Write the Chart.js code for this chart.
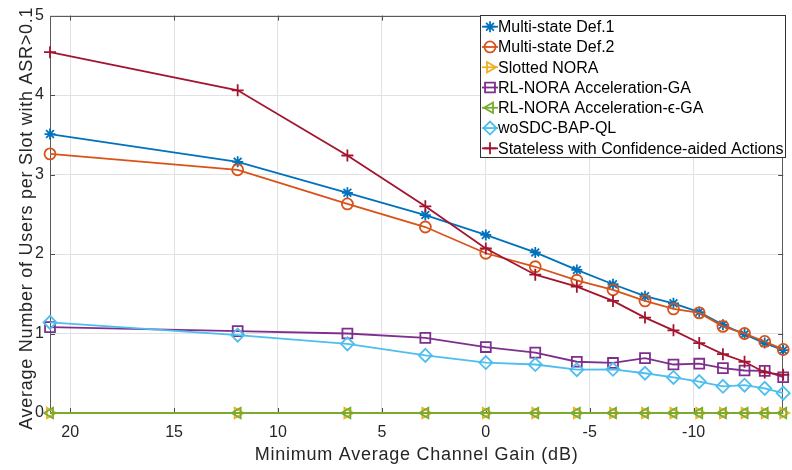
<!DOCTYPE html>
<html>
<head>
<meta charset="utf-8">
<script src="https://cdn.jsdelivr.net/npm/chart.js@4/dist/chart.umd.min.js"></script>
<style>
  html, body { margin: 0; padding: 0; background: #fff; }
  #wrap { width: 792px; height: 470px; }
</style>
</head>
<body>
<div id="wrap"><canvas id="c" width="792" height="470"></canvas></div>
<script>
// Minimum average channel gain (dB) of each simulated point
const gainDb = [20.97, 11.94, 6.66, 2.91, 0, -2.38, -4.38, -6.12, -7.66, -9.03, -10.27, -11.41, -12.45, -13.42, -14.31];
const xTickValues = [20, 15, 10, 5, 0, -5, -10];
const yTickValues = [0, 1, 2, 3, 4, 5];

// Average number of users per slot with ASR > 0.1
const multiStateDef1 = [3.51, 3.16, 2.77, 2.49, 2.24, 2.02, 1.80, 1.62, 1.47, 1.38, 1.27, 1.11, 0.99, 0.88, 0.79];
const multiStateDef2 = [3.26, 3.06, 2.63, 2.34, 2.01, 1.84, 1.67, 1.55, 1.41, 1.31, 1.26, 1.09, 1.00, 0.90, 0.80];
const slottedNora    = [0, 0, 0, 0, 0, 0, 0, 0, 0, 0, 0, 0, 0, 0, 0];
const rlNoraGa       = [1.08, 1.03, 1.00, 0.945, 0.83, 0.76, 0.645, 0.63, 0.69, 0.61, 0.62, 0.565, 0.535, 0.53, 0.45];
const rlNoraEpsGa    = [0, 0, 0, 0, 0, 0, 0, 0, 0, 0, 0, 0, 0, 0, 0];
const woSdcBapQl     = [1.14, 0.98, 0.87, 0.725, 0.635, 0.61, 0.545, 0.55, 0.50, 0.447, 0.395, 0.336, 0.35, 0.31, 0.25];
const statelessCA    = [4.54, 4.06, 3.24, 2.60, 2.07, 1.74, 1.59, 1.41, 1.20, 1.04, 0.88, 0.74, 0.645, 0.51, 0.48];

const seriesNames = [
  'Multi-state Def.1',
  'Multi-state Def.2',
  'Slotted NORA',
  'RL-NORA Acceleration-GA',
  'RL-NORA Acceleration-\u03F5-GA',
  'woSDC-BAP-QL',
  'Stateless with Confidence-aided Actions'
];

const xTitle = 'Minimum Average Channel Gain (dB)';
const yTitle = 'Average Number of Users per Slot with ASR>0.1';

const FONT = '"Liberation Sans", Arial, Helvetica, sans-serif';
const INK = '#262626';

const styles = [
  { color: '#0072BD', pointStyle: 'star',     radius: 5.5, rotation: 0 },
  { color: '#D95319', pointStyle: 'circle',   radius: 5.5, rotation: 0 },
  { color: '#EDB120', pointStyle: 'triangle', radius: 6,   rotation: 90 },
  { color: '#7E2F8E', pointStyle: 'rect',     radius: 7,   rotation: 0 },
  { color: '#77AC30', pointStyle: 'triangle', radius: 6,   rotation: -90 },
  { color: '#4DBEEE', pointStyle: 'rectRot',  radius: 6.5, rotation: 0 },
  { color: '#A2142F', pointStyle: 'cross',    radius: 6,   rotation: 0 }
];

const seriesValues = [multiStateDef1, multiStateDef2, slottedNora, rlNoraGa, rlNoraEpsGa, woSdcBapQl, statelessCA];

const datasets = seriesValues.map((vals, i) => ({
  label: seriesNames[i],
  data: gainDb.map((g, k) => ({ x: g, y: vals[k] })),
  borderColor: styles[i].color,
  backgroundColor: styles[i].color,
  borderWidth: 1.8,
  pointStyle: styles[i].pointStyle,
  pointRadius: styles[i].radius,
  pointRotation: styles[i].rotation,
  pointBorderColor: styles[i].color,
  pointBackgroundColor: 'rgba(0,0,0,0)',
  pointBorderWidth: 1.8,
  tension: 0,
  clip: false,
  order: seriesValues.length - 1 - i
}));

// Box frame with inward tick marks on all four sides
const framePlugin = {
  id: 'frame',
  beforeDatasetsDraw(chart) {
    const { ctx, chartArea: a, scales: { x, y } } = chart;
    ctx.save();
    ctx.strokeStyle = '#4a4a4a';
    ctx.lineWidth = 1;
    ctx.beginPath();
    const tl = 5;
    x.ticks.forEach(t => {
      const px = Math.round(x.getPixelForValue(t.value)) + 0.5;
      ctx.moveTo(px, a.bottom); ctx.lineTo(px, a.bottom - tl);
      ctx.moveTo(px, a.top); ctx.lineTo(px, a.top + tl);
    });
    y.ticks.forEach(t => {
      const py = Math.round(y.getPixelForValue(t.value)) + 0.5;
      ctx.moveTo(a.left, py); ctx.lineTo(a.left + tl, py);
      ctx.moveTo(a.right, py); ctx.lineTo(a.right - tl, py);
    });
    ctx.stroke();
    ctx.strokeStyle = '#5a5a5a';
    ctx.strokeRect(Math.round(a.left) + 0.5, Math.round(a.top) + 0.5,
                   Math.round(a.right - a.left) - 1, Math.round(a.bottom - a.top) - 1);
    ctx.restore();
  }
};

// Axis titles, centred on the plot area
const titlePlugin = {
  id: 'axisTitles',
  afterDraw(chart) {
    const { ctx, chartArea: a } = chart;
    ctx.save();
    ctx.fillStyle = INK;
    ctx.font = '18px ' + FONT;
    if ('letterSpacing' in ctx) ctx.letterSpacing = '0.75px';
    ctx.textAlign = 'center';
    ctx.textBaseline = 'alphabetic';
    ctx.fillText(xTitle, (a.left + a.right) / 2, 460);
    ctx.translate(31.5, (a.top + a.bottom) / 2 + 4);
    ctx.rotate(-Math.PI / 2);
    ctx.fillText(yTitle, 0, 0);
    ctx.restore();
  }
};

// Legend box in the upper-right corner of the axes
const legendPlugin = {
  id: 'boxLegend',
  afterDatasetsDraw(chart) {
    const { ctx } = chart;
    const bx = 480, by = 15, bw = 305, bh = 142;
    const row0 = 26.7, rowStep = 20.27;
    ctx.save();
    ctx.fillStyle = '#fff';
    ctx.fillRect(bx, by, bw, bh);
    ctx.strokeStyle = '#333';
    ctx.lineWidth = 1;
    ctx.strokeRect(bx + 0.5, by + 0.5, bw, bh);
    ctx.font = '16px ' + FONT;
    ctx.textBaseline = 'middle';
    ctx.textAlign = 'left';
    chart.data.datasets.forEach((ds, i) => {
      const cy = row0 + i * rowStep;
      ctx.strokeStyle = ds.borderColor;
      ctx.lineWidth = 1.8;
      ctx.beginPath();
      ctx.moveTo(482, cy); ctx.lineTo(498, cy);
      ctx.stroke();
      ctx.fillStyle = 'rgba(0,0,0,0)';
      Chart.helpers.drawPoint(ctx, {
        pointStyle: ds.pointStyle,
        radius: ds.pointRadius,
        rotation: ds.pointRotation,
        borderWidth: 1.8
      }, 490, cy);
      ctx.fillStyle = '#000';
      ctx.fillText(ds.label, 498, cy + 1);
    });
    ctx.restore();
  }
};

new Chart(document.getElementById('c'), {
  type: 'line',
  data: { datasets },
  options: {
    responsive: false,
    animation: false,
    layout: { padding: { top: 12, right: 2, left: 0, bottom: 0 } },
    plugins: { legend: { display: false }, tooltip: { enabled: false } },
    scales: {
      x: {
        type: 'linear',
        reverse: true,
        min: Math.min(...gainDb),
        max: Math.max(...gainDb),
        afterBuildTicks: s => { s.ticks = xTickValues.map(v => ({ value: v })); },
        afterFit: s => { s.height = 57; },
        border: { display: false },
        grid: { color: '#e2e2e2', lineWidth: 1, drawTicks: false },
        ticks: { color: INK, padding: 10, font: { family: FONT, size: 16 }, maxRotation: 0,
                 callback: v => String(v) },
        title: { display: false }
      },
      y: {
        min: 0,
        max: 5,
        afterBuildTicks: s => { s.ticks = yTickValues.map(v => ({ value: v })); },
        afterFit: s => { s.width = 50; },
        border: { display: false },
        grid: { color: '#e2e2e2', lineWidth: 1, drawTicks: false },
        ticks: { color: INK, padding: 6, font: { family: FONT, size: 16 } },
        title: { display: false }
      }
    }
  },
  plugins: [framePlugin, legendPlugin, titlePlugin]
});
</script>
</body>
</html>
